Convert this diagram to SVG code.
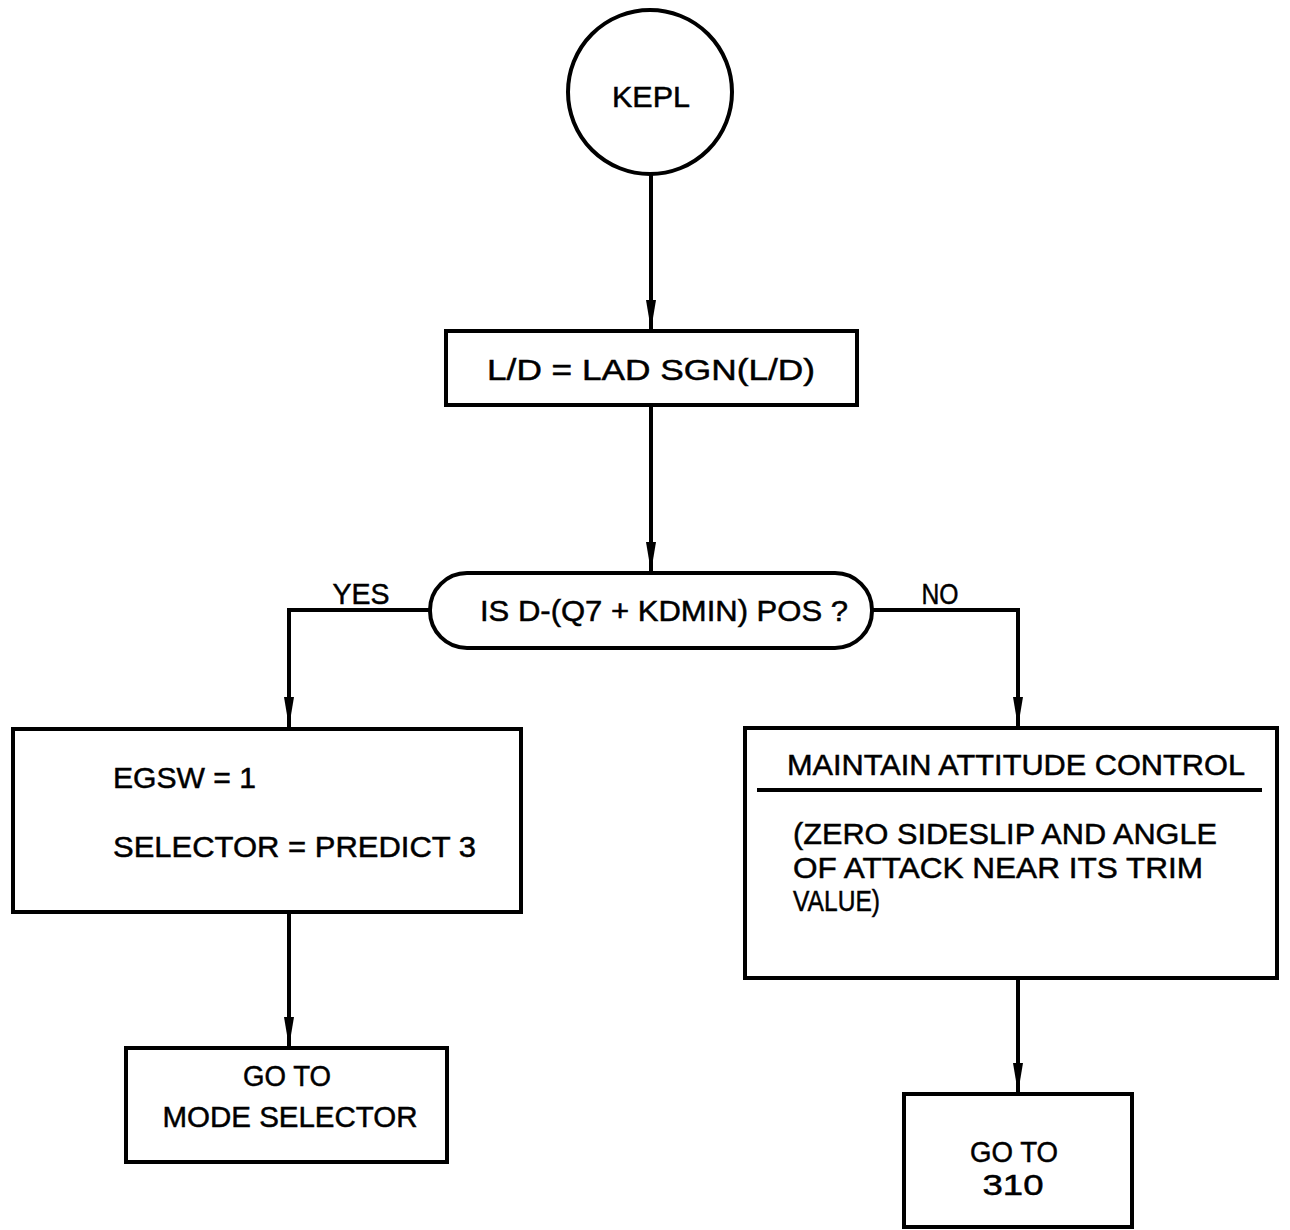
<svg xmlns="http://www.w3.org/2000/svg" width="1290" height="1230" viewBox="0 0 1290 1230">
<style>
.s{fill:#fff;stroke:#000;stroke-width:4}
.c{fill:none;stroke:#000;stroke-width:4}
.t{font-family:"Liberation Sans","DejaVu Sans",sans-serif;font-size:30px;fill:#000;stroke:#000;stroke-width:0.5}
.m{text-anchor:middle}
</style>
<defs>
<marker id="ah" markerUnits="userSpaceOnUse" markerWidth="32" markerHeight="12" refX="30" refY="6" orient="auto" viewBox="0 0 32 12">
<path d="M0,1 L30,6 L0,11 Z" fill="#000"/>
</marker>
</defs>
<rect width="1290" height="1230" fill="#fff"/>
<g id="connectors">
<line class="c" x1="651" y1="172" x2="651" y2="330" marker-end="url(#ah)"/>
<line class="c" x1="651" y1="405" x2="651" y2="572" marker-end="url(#ah)"/>
<polyline class="c" points="430,610 289,610 289,727" marker-end="url(#ah)"/>
<polyline class="c" points="872,610 1018,610 1018,727" marker-end="url(#ah)"/>
<line class="c" x1="289" y1="912" x2="289" y2="1047" marker-end="url(#ah)"/>
<line class="c" x1="1018" y1="978" x2="1018" y2="1093" marker-end="url(#ah)"/>
<text class="t m" x="361" y="604" textLength="57" lengthAdjust="spacingAndGlyphs">YES</text>
<text class="t m" x="940" y="604" textLength="37" lengthAdjust="spacingAndGlyphs">NO</text>
</g>
<g id="kepl">
<circle class="s" cx="650" cy="92" r="82"/>
<text class="t m" x="651" y="107" textLength="78" lengthAdjust="spacingAndGlyphs">KEPL</text>
</g>
<g id="ld">
<rect class="s" x="446" y="331" width="411" height="74"/>
<text class="t m" x="651" y="380" textLength="328" lengthAdjust="spacingAndGlyphs">L/D = LAD SGN(L/D)</text>
</g>
<g id="decision">
<rect class="s" x="430" y="573" width="442" height="75" rx="37" ry="37"/>
<text class="t m" x="664" y="621" textLength="368" lengthAdjust="spacingAndGlyphs">IS D-(Q7 + KDMIN) POS ?</text>
</g>
<g id="egsw">
<rect class="s" x="13" y="729" width="508" height="183"/>
<text class="t" x="113" y="788" textLength="143" lengthAdjust="spacingAndGlyphs">EGSW = 1</text>
<text class="t" x="113" y="857" textLength="363" lengthAdjust="spacingAndGlyphs">SELECTOR = PREDICT 3</text>
</g>
<g id="mode">
<rect class="s" x="126" y="1048" width="321" height="114"/>
<text class="t m" x="287" y="1086" textLength="88" lengthAdjust="spacingAndGlyphs">GO TO</text>
<text class="t m" x="290" y="1127" textLength="255" lengthAdjust="spacingAndGlyphs">MODE SELECTOR</text>
</g>
<g id="attitude">
<rect class="s" x="745" y="728" width="532" height="250"/>
<text class="t" x="787" y="775" textLength="458" lengthAdjust="spacingAndGlyphs">MAINTAIN ATTITUDE CONTROL</text>
<line class="c" x1="757" y1="790" x2="1262" y2="790"/>
<text class="t" x="793" y="844" textLength="424" lengthAdjust="spacingAndGlyphs">(ZERO SIDESLIP AND ANGLE</text>
<text class="t" x="793" y="878" textLength="410" lengthAdjust="spacingAndGlyphs">OF ATTACK NEAR ITS TRIM</text>
<text class="t" x="793" y="911" textLength="87" lengthAdjust="spacingAndGlyphs">VALUE)</text>
</g>
<g id="goto310">
<rect class="s" x="904" y="1094" width="228" height="133"/>
<text class="t m" x="1014" y="1162" textLength="88" lengthAdjust="spacingAndGlyphs">GO TO</text>
<text class="t m" x="1013" y="1195" textLength="61" lengthAdjust="spacingAndGlyphs">310</text>
</g>
</svg>
